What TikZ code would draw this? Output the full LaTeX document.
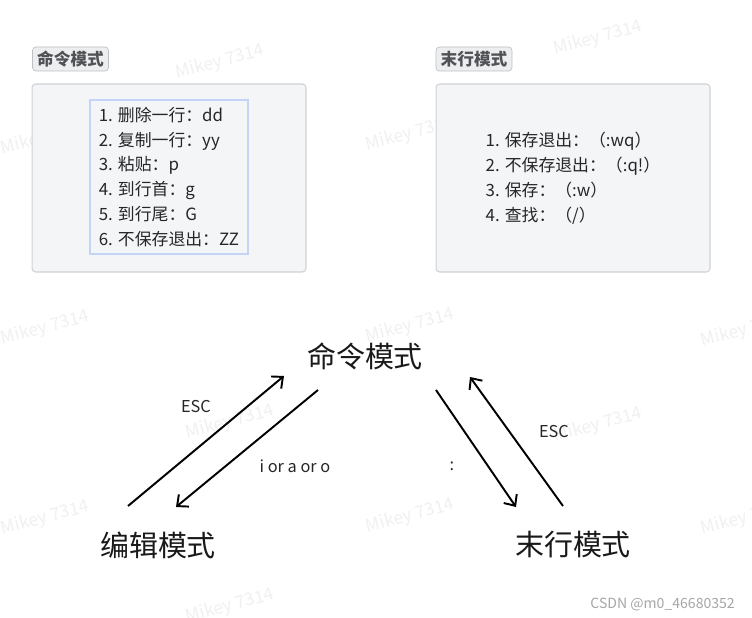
\documentclass[tikz,border=0pt]{standalone}
\usepackage{fontspec}
\setmainfont{Noto Sans CJK SC}
\usetikzlibrary{arrows.meta}
\definecolor{panelfill}{HTML}{F4F5F7}
\definecolor{panelline}{HTML}{CFD1D4}
\definecolor{tagfill}{HTML}{EDEEF0}
\definecolor{tagline}{HTML}{BDBFC2}
\definecolor{tagtext}{HTML}{505256}
\definecolor{listline}{HTML}{C3D4F7}
\definecolor{markgray}{HTML}{F0F0F0}

\begin{document}
\begin{tikzpicture}[
  x=0.02cm, y=-0.02cm,
  panel/.style={draw=panelline, fill=panelfill, rounded corners=2pt, line width=0.6pt, minimum width=5.48cm, minimum height=3.76cm},
  tagbox/.style={draw=tagline, fill=tagfill, rounded corners=2pt, text=tagtext, font=\fontsize{9.5}{11}\selectfont\bfseries, minimum width=1.52cm, minimum height=0.48cm, inner sep=0pt},
  itemlist/.style={align=left, font=\fontsize{9.6}{14.2}\selectfont, text=black!85},
  modename/.style={font=\fontsize{16.5}{18}\selectfont, text=black!90, inner sep=0pt},
  keylabel/.style={font=\fontsize{9.3}{10}\selectfont, text=black!85},
  switch/.style={-{Straight Barb[length=5pt,width=9pt]}, line width=1.1pt},
  wmark/.style={text=markgray, rotate=15, font=\fontsize{10}{12}\selectfont}
]
\useasboundingbox (0,0) rectangle (752,618);

\foreach \wx/\wy in {220/62, 598/38, 45/138, 410/134, 230/228, 598/228, 45/328, 410/326, 745/330, 230/422, 598/425, 45/518, 410/516, 745/518, 230/606}
  \node[wmark] at (\wx,\wy) {Mikey 7314};

\node[tagbox] (cmdtag) at (70.5,59) {命令模式};
\node[panel] (cmdpanel) at (169,178) {};
\node[itemlist, draw=listline, line width=1pt, minimum width=3.16cm, minimum height=3.08cm] (cmdlist) at (169,177)
  {1. 删除一行：dd\\2. 复制一行：yy\\3. 粘贴：p\\4. 到行首：g\\5. 到行尾：G\\6. 不保存退出：ZZ};

\node[tagbox] (lasttag) at (474,59) {末行模式};
\node[panel] (lastpanel) at (573,178) {};
\node[itemlist] (lastlist) at (573,178)
  {1. 保存退出：（:wq）\\2. 不保存退出：（:q!）\\3. 保存：（:w）\\4. 查找：（/）};

\node[modename] (cmd) at (365,356) {命令模式};
\node[modename] (edit) at (158,545) {编辑模式};
\node[modename] (last) at (573,545) {末行模式};

\draw[switch] ([shift={(-30,-39)}]edit.center) -- ([shift={(-81,20)}]cmd.center);
\draw[switch] ([shift={(-47,34)}]cmd.center) -- ([shift={(18,-38)}]edit.center);
\draw[switch] ([shift={(71,34)}]cmd.center) -- ([shift={(-57,-38)}]last.center);
\draw[switch] ([shift={(-10,-39)}]last.center) -- ([shift={(105,21)}]cmd.center);

\node[keylabel] (esc1) at (196,407) {ESC};
\node[keylabel] (insert) at (295,466) {i or a or o};
\node[keylabel] (colon) at (452,466) {:};
\node[keylabel] (esc2) at (554,432) {ESC};

\node[anchor=east, text=black!35, font=\fontsize{8}{9}\selectfont] (csdn) at (741,604) {CSDN @m0\_46680352};
\end{tikzpicture}
\end{document}
